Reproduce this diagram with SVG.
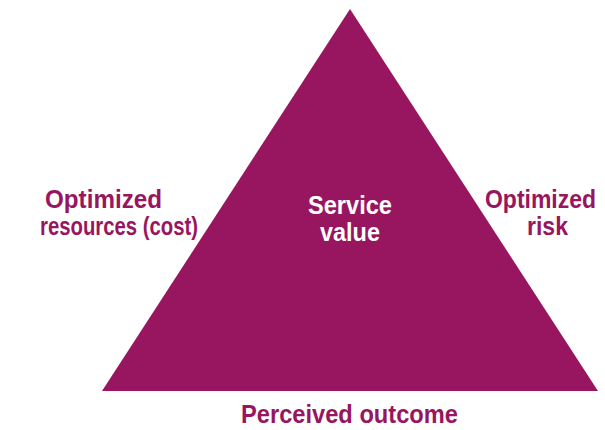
<svg xmlns="http://www.w3.org/2000/svg" width="605" height="430" viewBox="0 0 605 430">
<style>
.t{font-family:"Liberation Sans",Arial,sans-serif;font-weight:bold;font-size:25px;fill:#97165F}
.w{fill:#ffffff}
</style>
<rect width="605" height="430" fill="#ffffff"/>
<g id="triangle">
<polygon points="350,9 102,391 598,391" fill="#97165F"/>
<text class="t w" x="308" y="214" textLength="84" lengthAdjust="spacingAndGlyphs">Service</text>
<text class="t w" x="320" y="241" textLength="60" lengthAdjust="spacingAndGlyphs">value</text>
</g>
<g id="cost">
<text class="t" x="45" y="208" textLength="117" lengthAdjust="spacingAndGlyphs">Optimized</text>
<text class="t" x="40" y="235" textLength="158" lengthAdjust="spacingAndGlyphs">resources (cost)</text>
</g>
<g id="risk">
<text class="t" x="485" y="208" textLength="111" lengthAdjust="spacingAndGlyphs">Optimized</text>
<text class="t" x="527" y="235" textLength="41" lengthAdjust="spacingAndGlyphs">risk</text>
</g>
<g id="outcome">
<text class="t" x="241" y="423" textLength="217" lengthAdjust="spacingAndGlyphs">Perceived outcome</text>
</g>
<g id="connectors"/>
</svg>
